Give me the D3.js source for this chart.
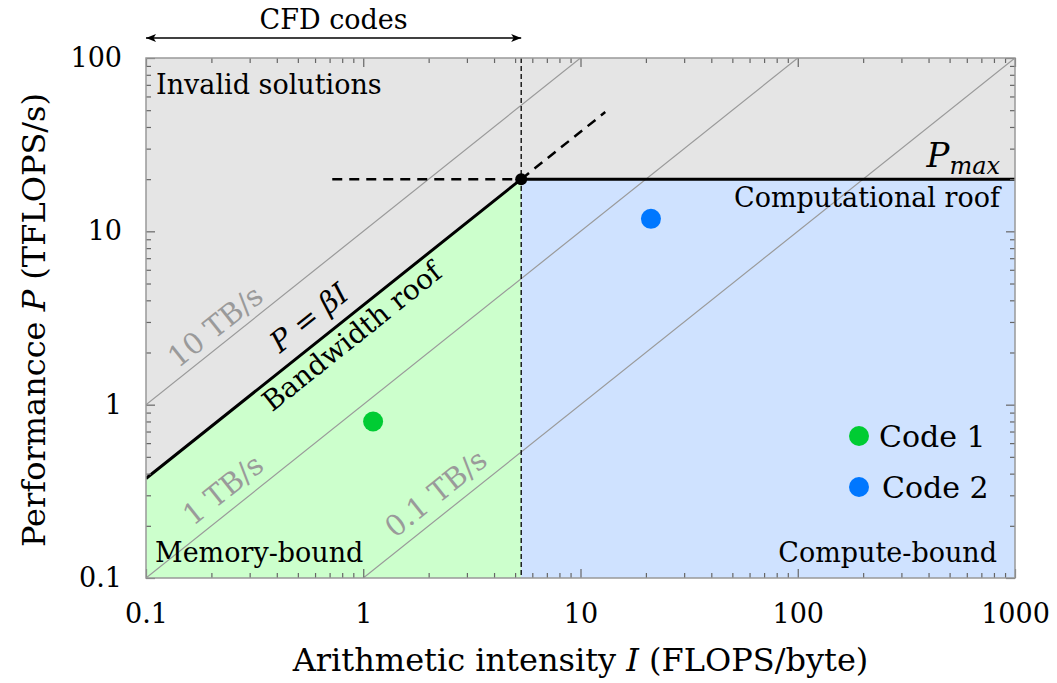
<!DOCTYPE html>
<html lang="en">
<head>
<meta charset="UTF-8">
<title>Roofline</title>
<script src="https://d3js.org/d3.v7.min.js"></script>
<style>
  body { margin: 0; background: #fff; }
  svg text { font-family: "DejaVu Serif", serif; }
</style>
</head>
<body>
<svg width="1057" height="683"></svg>
<script>
// ---- data ----
const xTicks = [0.1, 1, 10, 100, 1000];
const yTicks = [0.1, 1, 10, 100];
const pMax = 20;          // TFLOPS/s, computational roof
const beta = 3.75;        // TB/s, bandwidth roof
const bwLines = [10, 1, 0.1];                 // TB/s reference lines
const bwLabels = ["10 TB/s", "1 TB/s", "0.1 TB/s"];
const bwLabelI = [0.235, 0.26, 2.48];         // where along the line the label sits
const bwLabelOff = [8, 11, 11];
const codeNames = ["Code 1", "Code 2"];
const codeI = [1.11, 21.1];
const codeP = [0.8, 11.8];
const codeColors = ["#00cc33", "#0077ff"];

const FS = 27;
const svg = d3.select("svg");
const pLeft = 146, pRight = 1015, pTop = 58, pBottom = 578;

const x = d3.scaleLog().domain([0.1, 1000]).range([pLeft, pRight]);
const y = d3.scaleLog().domain([0.1, 100]).range([pBottom, pTop]);

const kneeI = pMax / beta;
const angle = Math.atan((y(1) - y(10)) / (x(10) - x(1))) * 180 / Math.PI;

const defs = svg.append("defs");
defs.append("clipPath").attr("id", "plot")
  .append("rect").attr("x", pLeft).attr("y", pTop)
  .attr("width", pRight - pLeft).attr("height", pBottom - pTop);

const g = svg.append("g").attr("clip-path", "url(#plot)");

// regions
g.append("rect").attr("x", pLeft).attr("y", pTop)
  .attr("width", pRight - pLeft).attr("height", pBottom - pTop)
  .attr("fill", "#e5e5e5");

g.append("path")
  .attr("d", d3.line()([[x(0.1), y(0.1)], [x(0.1), y(beta * 0.1)], [x(kneeI), y(pMax)], [x(kneeI), y(0.1)]]))
  .attr("fill", "#ccffcc");

g.append("rect").attr("x", x(kneeI)).attr("y", y(pMax))
  .attr("width", x(1000) - x(kneeI)).attr("height", y(0.1) - y(pMax))
  .attr("fill", "#cfe2ff");

// bandwidth reference lines
g.selectAll(".bw").data(bwLines).join("line")
  .attr("x1", d => x(0.001)).attr("y1", d => y(d * 0.001))
  .attr("x2", d => x(10000)).attr("y2", d => y(d * 10000))
  .attr("stroke", "#9a9a9a").attr("stroke-width", 1.2);

// vertical dashed at the knee
g.append("line")
  .attr("x1", x(kneeI)).attr("x2", x(kneeI)).attr("y1", y(100)).attr("y2", y(0.1))
  .attr("stroke", "#000").attr("stroke-width", 1.3).attr("stroke-dasharray", "5,3");

// dashed extensions
g.append("line")
  .attr("x1", x(0.72)).attr("y1", y(pMax)).attr("x2", x(kneeI)).attr("y2", y(pMax))
  .attr("stroke", "#000").attr("stroke-width", 2.5).attr("stroke-dasharray", "10,7");
g.append("line")
  .attr("x1", x(kneeI)).attr("y1", y(pMax)).attr("x2", x(13)).attr("y2", y(beta * 13))
  .attr("stroke", "#000").attr("stroke-width", 2.5).attr("stroke-dasharray", "10,7");

// roofline
g.append("path")
  .attr("d", d3.line()([[x(0.1), y(beta * 0.1)], [x(kneeI), y(pMax)], [x(1000), y(pMax)]]))
  .attr("fill", "none").attr("stroke", "#000").attr("stroke-width", 3);

g.append("circle").attr("cx", x(kneeI)).attr("cy", y(pMax)).attr("r", 6).attr("fill", "#000");

// codes
g.selectAll(".code").data(codeNames).join("circle")
  .attr("cx", (d, i) => x(codeI[i])).attr("cy", (d, i) => y(codeP[i]))
  .attr("r", 10).attr("fill", (d, i) => codeColors[i]);

// labels along lines
function along(I, P, off, color, size) {
  return svg.append("text")
    .attr("transform", `translate(${x(I)},${y(P)}) rotate(${-angle})`)
    .attr("y", off).attr("text-anchor", "middle")
    .attr("font-size", size).attr("fill", color);
}
bwLines.forEach((b, i) => {
  along(bwLabelI[i], b * bwLabelI[i], -bwLabelOff[i], "#9a9a9a", 29).text(bwLabels[i]);
});
along(0.79, beta * 0.79, 27, "#000", 28).text("Bandwidth roof");
const pb = along(0.66, beta * 0.66, -14, "#000", 29);
pb.append("tspan").attr("font-style", "italic").text("P");
pb.append("tspan").text(" = ");
pb.append("tspan").attr("font-style", "italic").text("βI");

// region labels
svg.append("text").attr("x", 156).attr("y", 94).attr("font-size", FS).text("Invalid solutions");
svg.append("text").attr("x", 155).attr("y", 562).attr("font-size", FS).text("Memory-bound");
svg.append("text").attr("x", 997).attr("y", 562).attr("font-size", FS).attr("text-anchor", "end").text("Compute-bound");
svg.append("text").attr("x", 1000).attr("y", 207).attr("font-size", FS).attr("text-anchor", "end").text("Computational roof");
const pm = svg.append("text").attr("x", 1000).attr("y", 167).attr("font-size", 34).attr("text-anchor", "end").attr("font-style", "italic");
pm.append("tspan").text("P");
pm.append("tspan").attr("font-size", 24).attr("dy", 7).text("max");

// legend
codeNames.forEach((c, i) => {
  svg.append("circle").attr("cx", 859).attr("cy", 436 + i * 51).attr("r", 10).attr("fill", codeColors[i]);
  svg.append("text").attr("x", 879 + i * 3).attr("y", 436 + i * 51).attr("dy", "0.36em")
    .attr("font-size", 30).text(c);
});

// CFD codes arrow
defs.append("marker").attr("id", "ah").attr("viewBox", "0 0 10 10")
  .attr("refX", 10).attr("refY", 5).attr("markerWidth", 14).attr("markerHeight", 10)
  .attr("markerUnits", "userSpaceOnUse").attr("orient", "auto-start-reverse")
  .append("path").attr("d", "M0,1 L10,5 L0,9 L2.5,5 Z").attr("fill", "#000");
svg.append("line").attr("x1", x(0.1)).attr("x2", x(kneeI)).attr("y1", 38).attr("y2", 38)
  .attr("stroke", "#000").attr("stroke-width", 1.5)
  .attr("marker-start", "url(#ah)").attr("marker-end", "url(#ah)");
svg.append("text").attr("x", (x(0.1) + x(kneeI)) / 2).attr("y", 29)
  .attr("text-anchor", "middle").attr("font-size", FS).text("CFD codes");

// frame and ticks
const isMajor = (v, list) => list.some(t => Math.abs(t - v) / t < 1e-9);
const minorX = x.ticks().filter(v => !isMajor(v, xTicks));
const minorY = y.ticks().filter(v => !isMajor(v, yTicks));
const fmt = d => d3.format("~g")(d);

function styleAxis(sel) {
  sel.select(".domain").remove();
  sel.selectAll(".tick line").attr("stroke", "#666").attr("stroke-width", 1.2);
  sel.selectAll("text").attr("font-family", "DejaVu Serif, serif").attr("font-size", 27).attr("fill", "#000");
}
svg.append("g").attr("transform", `translate(0,${pBottom})`)
  .call(d3.axisBottom(x).tickValues(xTicks).tickSizeInner(-9).tickSizeOuter(0).tickPadding(26).tickFormat(fmt))
  .call(styleAxis);
svg.append("g").attr("transform", `translate(0,${pBottom})`)
  .call(d3.axisBottom(x).tickValues(minorX).tickSizeInner(-5).tickSizeOuter(0).tickFormat(""))
  .call(styleAxis);
svg.append("g").attr("transform", `translate(0,${pTop})`)
  .call(d3.axisTop(x).tickValues(xTicks).tickSizeInner(-9).tickSizeOuter(0).tickFormat(""))
  .call(styleAxis);
svg.append("g").attr("transform", `translate(0,${pTop})`)
  .call(d3.axisTop(x).tickValues(minorX).tickSizeInner(-5).tickSizeOuter(0).tickFormat(""))
  .call(styleAxis);
svg.append("g").attr("transform", `translate(${pLeft},0)`)
  .call(d3.axisLeft(y).tickValues(yTicks).tickSizeInner(-9).tickSizeOuter(0).tickPadding(24).tickFormat(fmt))
  .call(styleAxis);
svg.append("g").attr("transform", `translate(${pLeft},0)`)
  .call(d3.axisLeft(y).tickValues(minorY).tickSizeInner(-5).tickSizeOuter(0).tickFormat(""))
  .call(styleAxis);
svg.append("g").attr("transform", `translate(${pRight},0)`)
  .call(d3.axisRight(y).tickValues(yTicks).tickSizeInner(-9).tickSizeOuter(0).tickFormat(""))
  .call(styleAxis);
svg.append("g").attr("transform", `translate(${pRight},0)`)
  .call(d3.axisRight(y).tickValues(minorY).tickSizeInner(-5).tickSizeOuter(0).tickFormat(""))
  .call(styleAxis);

svg.append("rect").attr("x", pLeft).attr("y", pTop)
  .attr("width", pRight - pLeft).attr("height", pBottom - pTop)
  .attr("fill", "none").attr("stroke", "#999").attr("stroke-width", 1.5);

// axis titles
const xt = svg.append("text").attr("x", (pLeft + pRight) / 2).attr("y", 671)
  .attr("text-anchor", "middle").attr("font-size", 32);
xt.append("tspan").text("Arithmetic intensity ");
xt.append("tspan").attr("font-style", "italic").text("I");
xt.append("tspan").text(" (FLOPS/byte)");

const yt = svg.append("text").attr("transform", `translate(45,${(pTop + pBottom) / 2 + 2}) rotate(-90)`)
  .attr("text-anchor", "middle").attr("font-size", 32);
yt.append("tspan").text("Performancce ");
yt.append("tspan").attr("font-style", "italic").text("P");
yt.append("tspan").text(" (TFLOPS/s)");
</script>
</body>
</html>
